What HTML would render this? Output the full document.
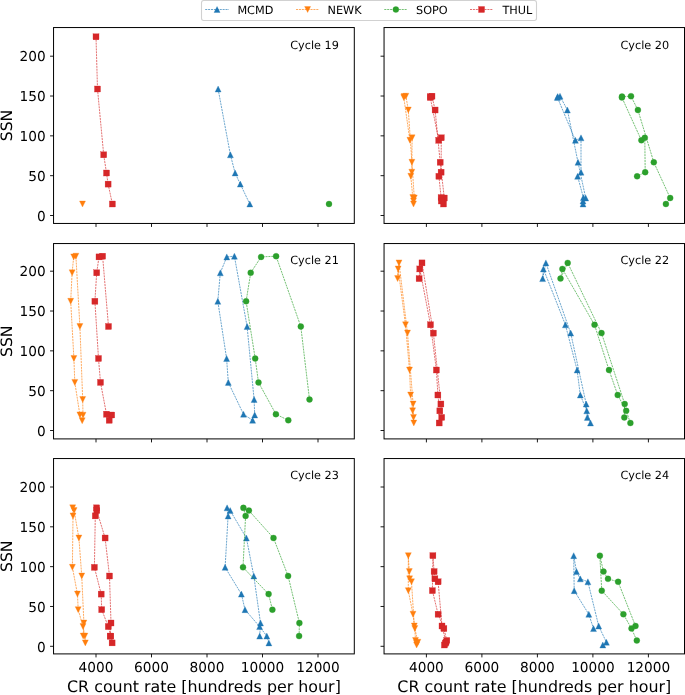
<!DOCTYPE html>
<html lang="en"><head><meta charset="utf-8"><title>CR count rate vs SSN, solar cycles 19-24</title>
<style>
html,body{margin:0;padding:0;background:#fff;}
body{width:685px;height:695px;overflow:hidden;}
svg{will-change:transform;display:block;font-family:"DejaVu Sans","Liberation Sans",sans-serif;fill:#000;text-rendering:geometricPrecision;}
.tk{font-size:13.7px;}.lb{font-size:15.86px;}.lg{font-size:11.25px;}.an{font-size:11.25px;}
.sp{fill:none;stroke:#000;stroke-width:1;stroke-linecap:square;}
.t{stroke:#000;stroke-width:0.9;fill:none;}
.ln{fill:none;stroke-width:0.66;stroke-dasharray:2.05 0.85;stroke-linejoin:round;}
.mk{stroke-width:0.3;stroke-linejoin:miter;}
</style></head><body>
<svg width="685" height="695" viewBox="0 0 685 695" role="img" aria-label="Cosmic ray count rate versus sunspot number for solar cycles 19 to 24">
<rect width="685" height="695" fill="#fff"/>
<g id="cycle19">
<clipPath id="cp19"><rect x="53.55" y="27.55" width="300.75" height="195.9"/></clipPath>
<g clip-path="url(#cp19)">
<path class="ln" stroke="#1f77b4" d="M218.1 89L230.4 154.8L235.1 173L240.3 184.1L249.8 204"/>
<g class="mk" fill="#1f77b4" stroke="#1f77b4">
<path d="M218.1 86L215.1 92L221.1 92Z"/><path d="M230.4 151.8L227.4 157.8L233.4 157.8Z"/><path d="M235.1 170L232.1 176L238.1 176Z"/><path d="M240.3 181.1L237.3 187.1L243.3 187.1Z"/><path d="M249.8 201L246.8 207L252.8 207Z"/>
</g>
<g class="mk" fill="#ff7f0e" stroke="#ff7f0e">
<path d="M82.5 207L85.5 201L79.5 201Z"/>
</g>
<g class="mk" fill="#2ca02c" stroke="#2ca02c">
<circle cx="329" cy="204" r="3"/>
</g>
<path class="ln" stroke="#d62728" d="M96 36.8L97.5 89L103.7 154.8L106.5 173L108.1 184.1L112.4 204"/>
<g class="mk" fill="#d62728" stroke="#d62728">
<rect x="93" y="33.8" width="6" height="6"/><rect x="94.5" y="86" width="6" height="6"/><rect x="100.7" y="151.8" width="6" height="6"/><rect x="103.5" y="170" width="6" height="6"/><rect x="105.1" y="181.1" width="6" height="6"/><rect x="109.4" y="201" width="6" height="6"/>
</g>
</g>
<path class="t" d="M96 223.45v3.5M151.5 223.45v3.5M207 223.45v3.5M262.5 223.45v3.5M318 223.45v3.5M53.55 215.5h-3.5M53.55 175.68h-3.5M53.55 135.85h-3.5M53.55 96.03h-3.5M53.55 56.2h-3.5"/>
<rect class="sp" x="53.55" y="27.55" width="300.75" height="195.9"/>
<text class="tk" text-anchor="end" x="45.75" y="220.7">0</text>
<text class="tk" text-anchor="end" x="45.75" y="180.88">50</text>
<text class="tk" text-anchor="end" x="45.75" y="141.05">100</text>
<text class="tk" text-anchor="end" x="45.75" y="101.23">150</text>
<text class="tk" text-anchor="end" x="45.75" y="61.4">200</text>
<text class="lb" style="font-size:15.6px" text-anchor="middle" transform="translate(12.1 125.5) rotate(-90)">SSN</text>
<text class="an" text-anchor="end" x="338.86" y="48.65">Cycle 19</text>
</g>
<g id="cycle20">
<clipPath id="cp20"><rect x="384.05" y="27.55" width="300.45" height="195.9"/></clipPath>
<g clip-path="url(#cp20)">
<path class="ln" stroke="#1f77b4" d="M583 204L585.7 198L578 162.3L567.4 110L560 96.2L557.7 96.6L557.4 97.5L575.4 140.3L581 137.8L581 172.2L577.6 176.3L583.4 197.6L583 201"/>
<g class="mk" fill="#1f77b4" stroke="#1f77b4">
<path d="M583 201L580 207L586 207Z"/><path d="M585.7 195L582.7 201L588.7 201Z"/><path d="M578 159.3L575 165.3L581 165.3Z"/><path d="M567.4 107L564.4 113L570.4 113Z"/><path d="M560 93.2L557 99.2L563 99.2Z"/><path d="M557.7 93.6L554.7 99.6L560.7 99.6Z"/><path d="M557.4 94.5L554.4 100.5L560.4 100.5Z"/><path d="M575.4 137.3L572.4 143.3L578.4 143.3Z"/><path d="M581 134.8L578 140.8L584 140.8Z"/><path d="M581 169.2L578 175.2L584 175.2Z"/><path d="M577.6 173.3L574.6 179.3L580.6 179.3Z"/><path d="M583.4 194.6L580.4 200.6L586.4 200.6Z"/><path d="M583 198L580 204L586 204Z"/>
</g>
<path class="ln" stroke="#ff7f0e" d="M413.5 204L414.3 198L411.9 162.3L408.3 110L405.9 96.2L404 96.6L403.8 97.5L409.9 140.3L412.1 137.8L411.8 172.2L410.8 176.3L412.8 197.6L413.5 201"/>
<g class="mk" fill="#ff7f0e" stroke="#ff7f0e">
<path d="M413.5 207L416.5 201L410.5 201Z"/><path d="M414.3 201L417.3 195L411.3 195Z"/><path d="M411.9 165.3L414.9 159.3L408.9 159.3Z"/><path d="M408.3 113L411.3 107L405.3 107Z"/><path d="M405.9 99.2L408.9 93.2L402.9 93.2Z"/><path d="M404 99.6L407 93.6L401 93.6Z"/><path d="M403.8 100.5L406.8 94.5L400.8 94.5Z"/><path d="M409.9 143.3L412.9 137.3L406.9 137.3Z"/><path d="M412.1 140.8L415.1 134.8L409.1 134.8Z"/><path d="M411.8 175.2L414.8 169.2L408.8 169.2Z"/><path d="M410.8 179.3L413.8 173.3L407.8 173.3Z"/><path d="M412.8 200.6L415.8 194.6L409.8 194.6Z"/><path d="M413.5 204L416.5 198L410.5 198Z"/>
</g>
<path class="ln" stroke="#2ca02c" d="M665.9 204L670.2 198L653.8 162.3L637.9 110L631 96.2L622 96.6L621.9 97.5L641.4 140.3L644.8 137.8L645.2 172.2L637.1 176.3"/>
<g class="mk" fill="#2ca02c" stroke="#2ca02c">
<circle cx="665.9" cy="204" r="3"/><circle cx="670.2" cy="198" r="3"/><circle cx="653.8" cy="162.3" r="3"/><circle cx="637.9" cy="110" r="3"/><circle cx="631" cy="96.2" r="3"/><circle cx="622" cy="96.6" r="3"/><circle cx="621.9" cy="97.5" r="3"/><circle cx="641.4" cy="140.3" r="3"/><circle cx="644.8" cy="137.8" r="3"/><circle cx="645.2" cy="172.2" r="3"/><circle cx="637.1" cy="176.3" r="3"/>
</g>
<path class="ln" stroke="#d62728" d="M443.5 204L444.3 198L440.2 162.3L435.1 110L432 96.2L430.5 96.6L430.3 97.5L438.7 140.3L441.3 137.8L441.1 172.2L438.9 176.3L441.1 197.6L441.3 201"/>
<g class="mk" fill="#d62728" stroke="#d62728">
<rect x="440.5" y="201" width="6" height="6"/><rect x="441.3" y="195" width="6" height="6"/><rect x="437.2" y="159.3" width="6" height="6"/><rect x="432.1" y="107" width="6" height="6"/><rect x="429" y="93.2" width="6" height="6"/><rect x="427.5" y="93.6" width="6" height="6"/><rect x="427.3" y="94.5" width="6" height="6"/><rect x="435.7" y="137.3" width="6" height="6"/><rect x="438.3" y="134.8" width="6" height="6"/><rect x="438.1" y="169.2" width="6" height="6"/><rect x="435.9" y="173.3" width="6" height="6"/><rect x="438.1" y="194.6" width="6" height="6"/><rect x="438.3" y="198" width="6" height="6"/>
</g>
</g>
<path class="t" d="M426.4 223.45v3.5M481.9 223.45v3.5M537.4 223.45v3.5M592.9 223.45v3.5M648.4 223.45v3.5M384.05 215.5h-3.5M384.05 175.68h-3.5M384.05 135.85h-3.5M384.05 96.03h-3.5M384.05 56.2h-3.5"/>
<rect class="sp" x="384.05" y="27.55" width="300.45" height="195.9"/>
<text class="an" text-anchor="end" x="669.08" y="48.65">Cycle 20</text>
</g>
<g id="cycle21">
<clipPath id="cp21"><rect x="53.55" y="243.55" width="300.75" height="195.35"/></clipPath>
<g clip-path="url(#cp21)">
<path class="ln" stroke="#1f77b4" d="M254.7 415L254.1 399.5L247.1 326.5L234.4 256.2L226.8 256.9L220.3 272.8L217.8 301.3L226.6 358.5L228.3 382.4L243.5 414.2L252.6 420.3"/>
<g class="mk" fill="#1f77b4" stroke="#1f77b4">
<path d="M254.7 412L251.7 418L257.7 418Z"/><path d="M254.1 396.5L251.1 402.5L257.1 402.5Z"/><path d="M247.1 323.5L244.1 329.5L250.1 329.5Z"/><path d="M234.4 253.2L231.4 259.2L237.4 259.2Z"/><path d="M226.8 253.9L223.8 259.9L229.8 259.9Z"/><path d="M220.3 269.8L217.3 275.8L223.3 275.8Z"/><path d="M217.8 298.3L214.8 304.3L220.8 304.3Z"/><path d="M226.6 355.5L223.6 361.5L229.6 361.5Z"/><path d="M228.3 379.4L225.3 385.4L231.3 385.4Z"/><path d="M243.5 411.2L240.5 417.2L246.5 417.2Z"/><path d="M252.6 417.3L249.6 423.3L255.6 423.3Z"/>
</g>
<path class="ln" stroke="#ff7f0e" d="M83 415.2L82.7 399.5L79.9 326.5L75.9 256.2L73.7 256.9L72.1 272.8L70.7 301.3L73.9 358.5L74.8 382.4L79.9 414.9L82.2 420.8"/>
<g class="mk" fill="#ff7f0e" stroke="#ff7f0e">
<path d="M83 418.2L86 412.2L80 412.2Z"/><path d="M82.7 402.5L85.7 396.5L79.7 396.5Z"/><path d="M79.9 329.5L82.9 323.5L76.9 323.5Z"/><path d="M75.9 259.2L78.9 253.2L72.9 253.2Z"/><path d="M73.7 259.9L76.7 253.9L70.7 253.9Z"/><path d="M72.1 275.8L75.1 269.8L69.1 269.8Z"/><path d="M70.7 304.3L73.7 298.3L67.7 298.3Z"/><path d="M73.9 361.5L76.9 355.5L70.9 355.5Z"/><path d="M74.8 385.4L77.8 379.4L71.8 379.4Z"/><path d="M79.9 417.9L82.9 411.9L76.9 411.9Z"/><path d="M82.2 423.8L85.2 417.8L79.2 417.8Z"/>
</g>
<path class="ln" stroke="#2ca02c" d="M309.5 399.5L300.8 326.5L276.1 256.2L261.1 256.9L250.7 272.8L246.1 301.3L255.2 358.5L258.5 382.4L275.9 414.2L288.3 420.3"/>
<g class="mk" fill="#2ca02c" stroke="#2ca02c">
<circle cx="309.5" cy="399.5" r="3"/><circle cx="300.8" cy="326.5" r="3"/><circle cx="276.1" cy="256.2" r="3"/><circle cx="261.1" cy="256.9" r="3"/><circle cx="250.7" cy="272.8" r="3"/><circle cx="246.1" cy="301.3" r="3"/><circle cx="255.2" cy="358.5" r="3"/><circle cx="258.5" cy="382.4" r="3"/><circle cx="275.9" cy="414.2" r="3"/><circle cx="288.3" cy="420.3" r="3"/>
</g>
<path class="ln" stroke="#d62728" d="M108.5 326.5L102.6 256.2L99 256.9L96.7 272.8L94.9 301.3L98.5 358.5L100.5 382.4L106.5 414.2L109.2 420.3"/>
<g class="mk" fill="#d62728" stroke="#d62728">
<rect x="108.7" y="412" width="6" height="6"/><rect x="105.5" y="323.5" width="6" height="6"/><rect x="99.6" y="253.2" width="6" height="6"/><rect x="96" y="253.9" width="6" height="6"/><rect x="93.7" y="269.8" width="6" height="6"/><rect x="91.9" y="298.3" width="6" height="6"/><rect x="95.5" y="355.5" width="6" height="6"/><rect x="97.5" y="379.4" width="6" height="6"/><rect x="103.5" y="411.2" width="6" height="6"/><rect x="106.2" y="417.3" width="6" height="6"/>
</g>
</g>
<path class="t" d="M96 438.9v3.5M151.5 438.9v3.5M207 438.9v3.5M262.5 438.9v3.5M318 438.9v3.5M53.55 430.5h-3.5M53.55 390.68h-3.5M53.55 350.85h-3.5M53.55 311.02h-3.5M53.55 271.2h-3.5"/>
<rect class="sp" x="53.55" y="243.55" width="300.75" height="195.35"/>
<text class="tk" text-anchor="end" x="45.75" y="435.7">0</text>
<text class="tk" text-anchor="end" x="45.75" y="395.88">50</text>
<text class="tk" text-anchor="end" x="45.75" y="356.05">100</text>
<text class="tk" text-anchor="end" x="45.75" y="316.22">150</text>
<text class="tk" text-anchor="end" x="45.75" y="276.4">200</text>
<text class="lb" style="font-size:15.6px" text-anchor="middle" transform="translate(12.1 341.23) rotate(-90)">SSN</text>
<text class="an" text-anchor="end" x="338.86" y="263.8">Cycle 21</text>
</g>
<g id="cycle22">
<clipPath id="cp22"><rect x="384.05" y="243.55" width="300.45" height="195.35"/></clipPath>
<g clip-path="url(#cp22)">
<path class="ln" stroke="#1f77b4" d="M587.3 417.4L586.2 404L570.7 333.1L545.9 262.9L542.65 278.6L543.4 268.95L565.4 324.8L577.1 370L580.3 395L586.75 410.85L590.5 423"/>
<g class="mk" fill="#1f77b4" stroke="#1f77b4">
<path d="M587.3 414.4L584.3 420.4L590.3 420.4Z"/><path d="M586.2 401L583.2 407L589.2 407Z"/><path d="M570.7 330.1L567.7 336.1L573.7 336.1Z"/><path d="M545.9 259.9L542.9 265.9L548.9 265.9Z"/><path d="M542.65 275.6L539.65 281.6L545.65 281.6Z"/><path d="M543.4 265.95L540.4 271.95L546.4 271.95Z"/><path d="M565.4 321.8L562.4 327.8L568.4 327.8Z"/><path d="M577.1 367L574.1 373L580.1 373Z"/><path d="M580.3 392L577.3 398L583.3 398Z"/><path d="M586.75 407.85L583.75 413.85L589.75 413.85Z"/><path d="M590.5 420L587.5 426L593.5 426Z"/>
</g>
<path class="ln" stroke="#ff7f0e" d="M413.5 417.4L413.1 404L407.5 333.1L399 262.9L397.6 278.6L398.1 268.95L405.5 324.8L409.5 370L410.6 395L412.6 410.85L413.8 423"/>
<g class="mk" fill="#ff7f0e" stroke="#ff7f0e">
<path d="M413.5 420.4L416.5 414.4L410.5 414.4Z"/><path d="M413.1 407L416.1 401L410.1 401Z"/><path d="M407.5 336.1L410.5 330.1L404.5 330.1Z"/><path d="M399 265.9L402 259.9L396 259.9Z"/><path d="M397.6 281.6L400.6 275.6L394.6 275.6Z"/><path d="M398.1 271.95L401.1 265.95L395.1 265.95Z"/><path d="M405.5 327.8L408.5 321.8L402.5 321.8Z"/><path d="M409.5 373L412.5 367L406.5 367Z"/><path d="M410.6 398L413.6 392L407.6 392Z"/><path d="M412.6 413.85L415.6 407.85L409.6 407.85Z"/><path d="M413.8 426L416.8 420L410.8 420Z"/>
</g>
<path class="ln" stroke="#2ca02c" d="M624.3 417.4L624.7 404L601.5 333.1L567.7 262.9L560.5 278.6L562.4 268.95L594.5 324.8L609 370L617.7 395L626.2 410.85L630.4 423"/>
<g class="mk" fill="#2ca02c" stroke="#2ca02c">
<circle cx="624.3" cy="417.4" r="3"/><circle cx="624.7" cy="404" r="3"/><circle cx="601.5" cy="333.1" r="3"/><circle cx="567.7" cy="262.9" r="3"/><circle cx="560.5" cy="278.6" r="3"/><circle cx="562.4" cy="268.95" r="3"/><circle cx="594.5" cy="324.8" r="3"/><circle cx="609" cy="370" r="3"/><circle cx="617.7" cy="395" r="3"/><circle cx="626.2" cy="410.85" r="3"/><circle cx="630.4" cy="423" r="3"/>
</g>
<path class="ln" stroke="#d62728" d="M441.7 417.4L440.9 404L433.4 333.1L422 262.9L419.1 278.6L419.8 268.95L430.5 324.8L436.4 370L437.9 395L439.85 410.85L439.2 423"/>
<g class="mk" fill="#d62728" stroke="#d62728">
<rect x="438.7" y="414.4" width="6" height="6"/><rect x="437.9" y="401" width="6" height="6"/><rect x="430.4" y="330.1" width="6" height="6"/><rect x="419" y="259.9" width="6" height="6"/><rect x="416.1" y="275.6" width="6" height="6"/><rect x="416.8" y="265.95" width="6" height="6"/><rect x="427.5" y="321.8" width="6" height="6"/><rect x="433.4" y="367" width="6" height="6"/><rect x="434.9" y="392" width="6" height="6"/><rect x="436.85" y="407.85" width="6" height="6"/><rect x="436.2" y="420" width="6" height="6"/>
</g>
</g>
<path class="t" d="M426.4 438.9v3.5M481.9 438.9v3.5M537.4 438.9v3.5M592.9 438.9v3.5M648.4 438.9v3.5M384.05 430.5h-3.5M384.05 390.68h-3.5M384.05 350.85h-3.5M384.05 311.02h-3.5M384.05 271.2h-3.5"/>
<rect class="sp" x="384.05" y="243.55" width="300.45" height="195.35"/>
<text class="an" text-anchor="end" x="669.08" y="263.8">Cycle 22</text>
</g>
<g id="cycle23">
<clipPath id="cp23"><rect x="53.55" y="458.55" width="300.75" height="195.35"/></clipPath>
<g clip-path="url(#cp23)">
<path class="ln" stroke="#1f77b4" d="M259.7 636.1L260.5 623L253.8 576L246.4 538L230.2 510.6L227.1 507.85L228.1 515.9L225.1 567.35L241.4 594.1L245 609.65L259.6 626.6L266.8 636.1L268.9 642.9"/>
<g class="mk" fill="#1f77b4" stroke="#1f77b4">
<path d="M259.7 633.1L256.7 639.1L262.7 639.1Z"/><path d="M260.5 620L257.5 626L263.5 626Z"/><path d="M253.8 573L250.8 579L256.8 579Z"/><path d="M246.4 535L243.4 541L249.4 541Z"/><path d="M230.2 507.6L227.2 513.6L233.2 513.6Z"/><path d="M227.1 504.85L224.1 510.85L230.1 510.85Z"/><path d="M228.1 512.9L225.1 518.9L231.1 518.9Z"/><path d="M225.1 564.35L222.1 570.35L228.1 570.35Z"/><path d="M241.4 591.1L238.4 597.1L244.4 597.1Z"/><path d="M245 606.65L242 612.65L248 612.65Z"/><path d="M259.6 623.6L256.6 629.6L262.6 629.6Z"/><path d="M266.8 633.1L263.8 639.1L269.8 639.1Z"/><path d="M268.9 639.9L265.9 645.9L271.9 645.9Z"/>
</g>
<path class="ln" stroke="#ff7f0e" d="M83.2 636.1L83.9 623L81.75 576L78.9 538L74.1 510.6L72.7 507.85L73 515.9L72.4 567.35L77.45 594.1L78.2 609.65L83 626.6L84.9 636.1L85.3 642.9"/>
<g class="mk" fill="#ff7f0e" stroke="#ff7f0e">
<path d="M83.2 639.1L86.2 633.1L80.2 633.1Z"/><path d="M83.9 626L86.9 620L80.9 620Z"/><path d="M81.75 579L84.75 573L78.75 573Z"/><path d="M78.9 541L81.9 535L75.9 535Z"/><path d="M74.1 513.6L77.1 507.6L71.1 507.6Z"/><path d="M72.7 510.85L75.7 504.85L69.7 504.85Z"/><path d="M73 518.9L76 512.9L70 512.9Z"/><path d="M72.4 570.35L75.4 564.35L69.4 564.35Z"/><path d="M77.45 597.1L80.45 591.1L74.45 591.1Z"/><path d="M78.2 612.65L81.2 606.65L75.2 606.65Z"/><path d="M83 629.6L86 623.6L80 623.6Z"/><path d="M84.9 639.1L87.9 633.1L81.9 633.1Z"/><path d="M85.3 645.9L88.3 639.9L82.3 639.9Z"/>
</g>
<path class="ln" stroke="#2ca02c" d="M299.1 636.1L299.4 623L288.1 576L273.5 538L248.9 510.6L243.4 507.85L245.6 515.9L243 567.35L268.6 594.1L272.4 609.65"/>
<g class="mk" fill="#2ca02c" stroke="#2ca02c">
<circle cx="299.1" cy="636.1" r="3"/><circle cx="299.4" cy="623" r="3"/><circle cx="288.1" cy="576" r="3"/><circle cx="273.5" cy="538" r="3"/><circle cx="248.9" cy="510.6" r="3"/><circle cx="243.4" cy="507.85" r="3"/><circle cx="245.6" cy="515.9" r="3"/><circle cx="243" cy="567.35" r="3"/><circle cx="268.6" cy="594.1" r="3"/><circle cx="272.4" cy="609.65" r="3"/>
</g>
<path class="ln" stroke="#d62728" d="M110.2 636.1L111 623L109.5 576L105.1 538L96.8 510.6L96.6 507.85L95.3 515.9L94.4 567.35L101.2 594.1L101.7 609.65L108.3 626.6L110.8 636.1L112.1 642.9"/>
<g class="mk" fill="#d62728" stroke="#d62728">
<rect x="107.2" y="633.1" width="6" height="6"/><rect x="108" y="620" width="6" height="6"/><rect x="106.5" y="573" width="6" height="6"/><rect x="102.1" y="535" width="6" height="6"/><rect x="93.8" y="507.6" width="6" height="6"/><rect x="93.6" y="504.85" width="6" height="6"/><rect x="92.3" y="512.9" width="6" height="6"/><rect x="91.4" y="564.35" width="6" height="6"/><rect x="98.2" y="591.1" width="6" height="6"/><rect x="98.7" y="606.65" width="6" height="6"/><rect x="105.3" y="623.6" width="6" height="6"/><rect x="107.8" y="633.1" width="6" height="6"/><rect x="109.1" y="639.9" width="6" height="6"/>
</g>
</g>
<path class="t" d="M96 653.9v3.5M151.5 653.9v3.5M207 653.9v3.5M262.5 653.9v3.5M318 653.9v3.5M53.55 646.3h-3.5M53.55 606.47h-3.5M53.55 566.65h-3.5M53.55 526.82h-3.5M53.55 487h-3.5"/>
<rect class="sp" x="53.55" y="458.55" width="300.75" height="195.35"/>
<text class="tk" text-anchor="end" x="45.75" y="651.5">0</text>
<text class="tk" text-anchor="end" x="45.75" y="611.67">50</text>
<text class="tk" text-anchor="end" x="45.75" y="571.85">100</text>
<text class="tk" text-anchor="end" x="45.75" y="532.02">150</text>
<text class="tk" text-anchor="end" x="45.75" y="492.2">200</text>
<text class="lb" style="font-size:15.6px" text-anchor="middle" transform="translate(12.1 556.23) rotate(-90)">SSN</text>
<text class="tk" text-anchor="middle" x="96" y="672.2">4000</text>
<text class="tk" text-anchor="middle" x="151.5" y="672.2">6000</text>
<text class="tk" text-anchor="middle" x="207" y="672.2">8000</text>
<text class="tk" text-anchor="middle" x="262.5" y="672.2">10000</text>
<text class="tk" text-anchor="middle" x="318" y="672.2">12000</text>
<text class="lb" text-anchor="middle" x="203.93" y="692.1">CR count rate [hundreds per hour]</text>
<text class="an" text-anchor="end" x="338.86" y="479">Cycle 23</text>
</g>
<g id="cycle24">
<clipPath id="cp24"><rect x="384.05" y="458.55" width="300.45" height="195.35"/></clipPath>
<g clip-path="url(#cp24)">
<path class="ln" stroke="#1f77b4" d="M602.8 645L606.4 642.2L598.7 626L587.9 581.8L580.3 578.85L576.5 571.6L573.7 555.65L574.2 590.65L588.8 614.25L593.5 628.55"/>
<g class="mk" fill="#1f77b4" stroke="#1f77b4">
<path d="M602.8 642L599.8 648L605.8 648Z"/><path d="M606.4 639.2L603.4 645.2L609.4 645.2Z"/><path d="M598.7 623L595.7 629L601.7 629Z"/><path d="M587.9 578.8L584.9 584.8L590.9 584.8Z"/><path d="M580.3 575.85L577.3 581.85L583.3 581.85Z"/><path d="M576.5 568.6L573.5 574.6L579.5 574.6Z"/><path d="M573.7 552.65L570.7 558.65L576.7 558.65Z"/><path d="M574.2 587.65L571.2 593.65L577.2 593.65Z"/><path d="M588.8 611.25L585.8 617.25L591.8 617.25Z"/><path d="M593.5 625.55L590.5 631.55L596.5 631.55Z"/>
</g>
<path class="ln" stroke="#ff7f0e" d="M416.6 645L417.9 642.2L414.3 626L411.5 581.8L409.6 578.85L409.3 571.6L408.3 555.65L408.3 590.65L413 614.25L414.8 628.55L415.5 640.5L416.6 643.3"/>
<g class="mk" fill="#ff7f0e" stroke="#ff7f0e">
<path d="M416.6 648L419.6 642L413.6 642Z"/><path d="M417.9 645.2L420.9 639.2L414.9 639.2Z"/><path d="M414.3 629L417.3 623L411.3 623Z"/><path d="M411.5 584.8L414.5 578.8L408.5 578.8Z"/><path d="M409.6 581.85L412.6 575.85L406.6 575.85Z"/><path d="M409.3 574.6L412.3 568.6L406.3 568.6Z"/><path d="M408.3 558.65L411.3 552.65L405.3 552.65Z"/><path d="M408.3 593.65L411.3 587.65L405.3 587.65Z"/><path d="M413 617.25L416 611.25L410 611.25Z"/><path d="M414.8 631.55L417.8 625.55L411.8 625.55Z"/><path d="M415.5 643.5L418.5 637.5L412.5 637.5Z"/><path d="M416.6 646.3L419.6 640.3L413.6 640.3Z"/>
</g>
<path class="ln" stroke="#2ca02c" d="M635.5 626L618.1 581.8L608 578.85L603.5 571.6L599.85 555.65L601.75 590.65L623.4 614.25L631.5 628.55L636.8 640.5"/>
<g class="mk" fill="#2ca02c" stroke="#2ca02c">
<circle cx="635.5" cy="626" r="3"/><circle cx="618.1" cy="581.8" r="3"/><circle cx="608" cy="578.85" r="3"/><circle cx="603.5" cy="571.6" r="3"/><circle cx="599.85" cy="555.65" r="3"/><circle cx="601.75" cy="590.65" r="3"/><circle cx="623.4" cy="614.25" r="3"/><circle cx="631.5" cy="628.55" r="3"/><circle cx="636.8" cy="640.5" r="3"/>
</g>
<path class="ln" stroke="#d62728" d="M444.4 645L446 642.2L442 626L438.1 581.8L434.9 578.85L434.1 571.6L432.9 555.65L432.4 590.65L438.1 614.25L443.9 628.55L446.8 640.5L445.3 643.3"/>
<g class="mk" fill="#d62728" stroke="#d62728">
<rect x="441.4" y="642" width="6" height="6"/><rect x="443" y="639.2" width="6" height="6"/><rect x="439" y="623" width="6" height="6"/><rect x="435.1" y="578.8" width="6" height="6"/><rect x="431.9" y="575.85" width="6" height="6"/><rect x="431.1" y="568.6" width="6" height="6"/><rect x="429.9" y="552.65" width="6" height="6"/><rect x="429.4" y="587.65" width="6" height="6"/><rect x="435.1" y="611.25" width="6" height="6"/><rect x="440.9" y="625.55" width="6" height="6"/><rect x="443.8" y="637.5" width="6" height="6"/><rect x="442.3" y="640.3" width="6" height="6"/>
</g>
</g>
<path class="t" d="M426.4 653.9v3.5M481.9 653.9v3.5M537.4 653.9v3.5M592.9 653.9v3.5M648.4 653.9v3.5M384.05 646.3h-3.5M384.05 606.47h-3.5M384.05 566.65h-3.5M384.05 526.82h-3.5M384.05 487h-3.5"/>
<rect class="sp" x="384.05" y="458.55" width="300.45" height="195.35"/>
<text class="tk" text-anchor="middle" x="426.4" y="672.2">4000</text>
<text class="tk" text-anchor="middle" x="481.9" y="672.2">6000</text>
<text class="tk" text-anchor="middle" x="537.4" y="672.2">8000</text>
<text class="tk" text-anchor="middle" x="592.9" y="672.2">10000</text>
<text class="tk" text-anchor="middle" x="648.4" y="672.2">12000</text>
<text class="lb" text-anchor="middle" x="534.27" y="692.1">CR count rate [hundreds per hour]</text>
<text class="an" text-anchor="end" x="669.08" y="479">Cycle 24</text>
</g>
<g id="legend">
<rect x="201.5" y="0.5" width="335" height="20" rx="2.2" ry="2.2" fill="#fff" stroke="#ccc" stroke-opacity="0.9" stroke-width="1.1"/>
<path class="ln" stroke="#1f77b4" d="M205.2 9.5H228.9"/>
<g class="mk" fill="#1f77b4" stroke="#1f77b4"><path d="M217.05 6.5L214.05 12.5L220.05 12.5Z"/></g>
<text class="lg" x="237.4" y="13.5">MCMD</text>
<path class="ln" stroke="#ff7f0e" d="M296 9.5H319.2"/>
<g class="mk" fill="#ff7f0e" stroke="#ff7f0e"><path d="M307.6 12.5L310.6 6.5L304.6 6.5Z"/></g>
<text class="lg" x="327.5" y="13.5">NEWK</text>
<path class="ln" stroke="#2ca02c" d="M384.3 9.5H407.4"/>
<g class="mk" fill="#2ca02c" stroke="#2ca02c"><circle cx="395.85" cy="9.5" r="3"/></g>
<text class="lg" x="416" y="13.5">SOPO</text>
<path class="ln" stroke="#d62728" d="M470 9.5H493.1"/>
<g class="mk" fill="#d62728" stroke="#d62728"><rect x="478.55" y="6.5" width="6" height="6"/></g>
<text class="lg" x="502.4" y="13.5">THUL</text>
</g>
</svg></body></html>
